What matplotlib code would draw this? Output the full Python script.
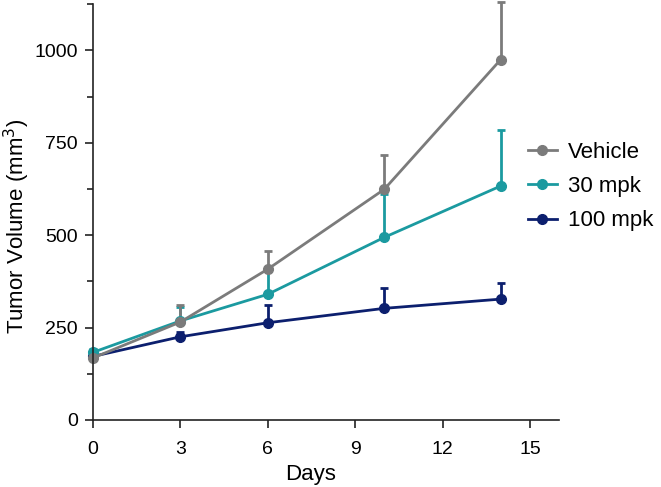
import matplotlib
matplotlib.use('Agg')
import matplotlib.pyplot as plt
from matplotlib.lines import Line2D
from matplotlib.ticker import MultipleLocator

plt.rcParams['font.family'] = ['Liberation Sans', 'DejaVu Sans']

# Tumor volume over time (mean + upper SEM)
days = [0, 3, 6, 10, 14]

vehicle = [168, 265, 408, 624, 975]
vehicle_err = [15, 46, 49, 92, 155]

mpk30 = [183, 268, 340, 494, 633]
mpk30_err = [10, 38, 70, 118, 151]

mpk100 = [172, 225, 263, 302, 327]
mpk100_err = [8, 14, 48, 56, 44]

series = [
    ('100 mpk', mpk100, mpk100_err, '#0c1f6e'),
    ('30 mpk', mpk30, mpk30_err, '#1b9aa0'),
    ('Vehicle', vehicle, vehicle_err, '#7b7b7b'),
]

fig = plt.figure(figsize=(6.61, 4.87), dpi=100)
ax = fig.add_axes([0.1407, 0.1376, 0.705, 0.854])

colors = {}
for name, vals, err, color in series:
    lo = [0] * len(err)
    ax.errorbar(days, vals, yerr=[lo, err], color=color, marker='o',
                markersize=7, linewidth=2, elinewidth=2,
                capsize=3, capthick=2, clip_on=False)
    colors[name] = color

ax.set_xlim(0, 16)
ax.set_ylim(0, 1125)
ax.xaxis.set_major_locator(MultipleLocator(3))
ax.yaxis.set_major_locator(MultipleLocator(250))
ax.yaxis.set_minor_locator(MultipleLocator(125))

for s in ['top', 'right']:
    ax.spines[s].set_visible(False)
for s in ['left', 'bottom']:
    ax.spines[s].set_linewidth(1.2)
    ax.spines[s].set_color('#222222')

ax.tick_params(which='major', length=6, width=1.2, labelsize=14, pad=5,
               color='#222222')
ax.tick_params(axis='x', which='major', pad=9)
ax.tick_params(which='minor', length=4, width=1.2, color='#222222')

ax.set_xlabel('Days', fontsize=16)
ax.set_ylabel('Tumor Volume (mm$^3$)', fontsize=16)
ax.xaxis.set_label_coords(0.466, -0.105)
ax.yaxis.set_label_coords(-0.131, 0.465)

order = ['Vehicle', '30 mpk', '100 mpk']
handles = [Line2D([], [], color=colors[n], marker='o', markersize=7, linewidth=2)
           for n in order]
fig.legend(handles, order, loc='center left',
           bbox_to_anchor=(0.785, 0.617), borderaxespad=0, frameon=False,
           fontsize=16, handlelength=1.3, handletextpad=0.5, labelspacing=0.6)

fig.savefig('out.png', dpi=100)
